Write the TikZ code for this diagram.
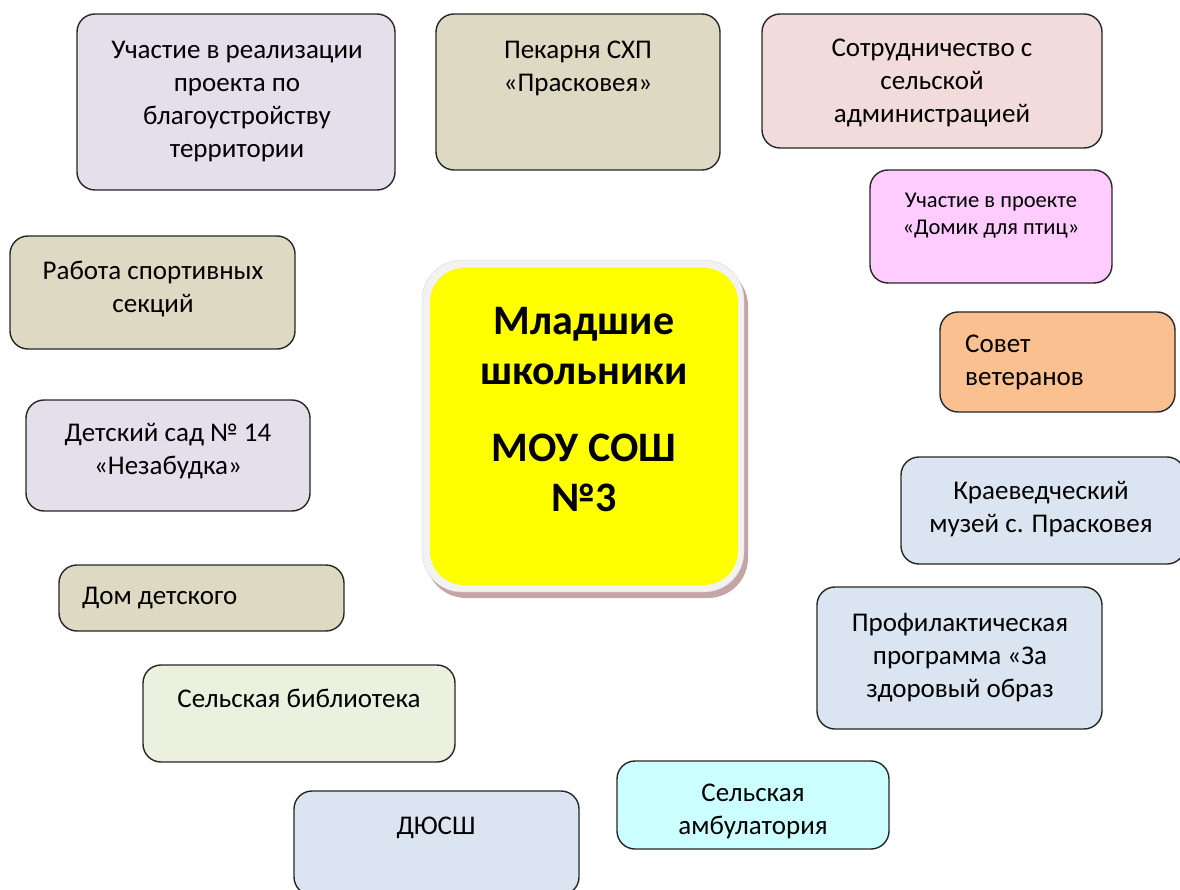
\documentclass[tikz,border=0pt]{standalone}
\usepackage{fontspec}
\setmainfont{Carlito}
\definecolor{lavbox}{HTML}{E5DFEC}
\definecolor{tanbox}{HTML}{DDD9C3}
\definecolor{rosebox}{HTML}{F2DCDB}
\definecolor{pinkbox}{HTML}{FFCCFF}
\definecolor{orangebox}{HTML}{FAC090}
\definecolor{bluebox}{HTML}{DBE5F1}
\definecolor{greenbox}{HTML}{EBF1DE}
\definecolor{cyanbox}{HTML}{CCFFFF}
\definecolor{ringgrey}{HTML}{F2F2F2}
\definecolor{shadowbrown}{HTML}{C4A4A4}
\definecolor{centreyellow}{HTML}{FFFF00}
\begin{document}
\begin{tikzpicture}[x=1pt, y=-1pt]
  \tikzset{
    box/.style={draw=black!85, line width=1.4pt, rounded corners=18pt},
    lbl/.style={anchor=north, align=center, inner sep=0pt, font=\fontsize{27}{33}\selectfont},
    lbl_left/.style={lbl, anchor=north west, align=left},
    lbl_small/.style={lbl, font=\fontsize{22.5}{27}\selectfont},
    lbl_big/.style={lbl, font=\fontsize{42}{50}\selectfont\bfseries}
  }
  \useasboundingbox (0,0) rectangle (1180,890);

  % Центральный блок
  \fill[shadowbrown, rounded corners=40pt] (426,266) rectangle (748,598);
  \draw[draw=black!15, fill=ringgrey, rounded corners=40pt] (422,260) rectangle (744,592);
  \fill[centreyellow, rounded corners=34pt] (430,268) rectangle (738,585);
  \node[lbl_big] (mlad) at (584,307) {Младшие\\школьники};
  \node[lbl_big] (mou) at (584,434) {МОУ СОШ\\№3};

  % Блоки сверху
  \draw[box, fill=lavbox] (77,14) rectangle (395,190);
  \node[lbl] (blago) at (237,41) {Участие в реализации\\проекта по\\благоустройству\\территории};

  \draw[box, fill=tanbox] (436,14) rectangle (720,170);
  \node[lbl] (pekarnya) at (578,41) {Пекарня СХП\\«Прасковея»};

  \draw[box, fill=rosebox] (762,14) rectangle (1102,148);
  \node[lbl] (admin) at (932,39) {Сотрудничество с\\сельской\\администрацией};

  % Блоки справа
  \draw[box, fill=pinkbox] (870,170) rectangle (1112,283);
  \node[lbl_small] (domik) at (991,193) {Участие в проекте\\«Домик для птиц»};

  \draw[box, fill=orangebox] (940,312) rectangle (1175,412);
  \node[lbl_left] (veterany) at (965,335) {Совет\\ветеранов};

  \draw[box, fill=bluebox] (901,457) rectangle (1185,564);
  \node[lbl] (muzey) at (1041,481) {Краеведческий\\музей с. Прасковея};

  \draw[box, fill=bluebox] (817,587) rectangle (1102,729);
  \node[lbl] (profil) at (960,613) {Профилактическая\\программа «За\\здоровый образ};

  % Блоки слева
  \draw[box, fill=tanbox] (10,236) rectangle (295,349);
  \node[lbl] (sport) at (153,261) {Работа спортивных\\секций};

  \draw[box, fill=lavbox] (26,400) rectangle (310,511);
  \node[lbl] (sad) at (168,423) {Детский сад № 14\\«Незабудка»};

  \draw[box, fill=tanbox] (59,565) rectangle (344,631);
  \node[lbl_left] (ddt) at (82,587) {Дом детского};

  % Блоки снизу
  \draw[box, fill=greenbox] (143,665) rectangle (455,762);
  \node[lbl] (biblio) at (299,689) {Сельская библиотека};

  \draw[box, fill=bluebox] (294,791) rectangle (579,895);
  \node[lbl] (dyussh) at (436,817) {ДЮСШ};

  \draw[box, fill=cyanbox] (617,761) rectangle (889,849);
  \node[lbl] (ambul) at (753,784) {Сельская\\амбулатория};
\end{tikzpicture}
\end{document}
